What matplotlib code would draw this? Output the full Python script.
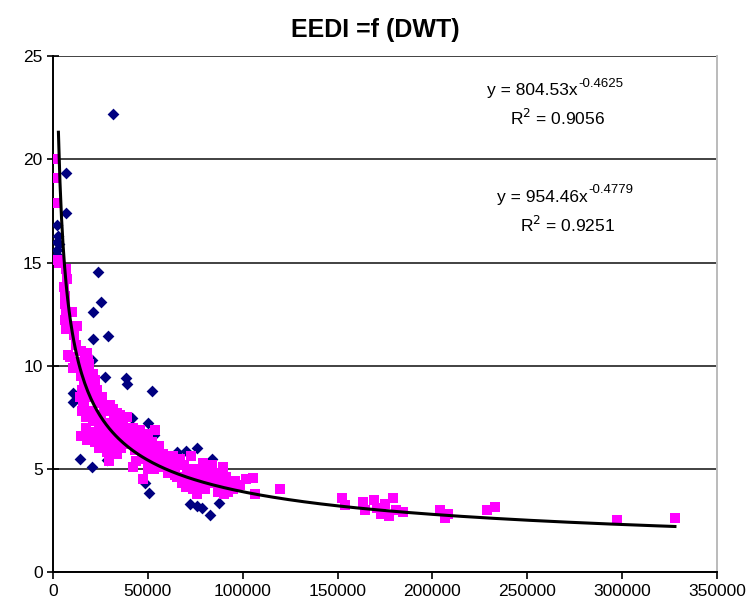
import numpy as np
import matplotlib

matplotlib.use("Agg")
import matplotlib.pyplot as plt

plt.rcParams["font.family"] = ["Liberation Sans", "DejaVu Sans"]

# navy diamonds (DWT, EEDI)
navy_x = [31600, 6700, 6850, 1950, 2270, 1950, 1950, 23900, 25300, 21250,
          21250, 28800, 27400, 38500, 38800, 52000, 10400, 10700, 20400, 41500,
          50200, 52000, 53200, 28300, 70100, 76100, 83600, 50800, 48500, 87700,
          82800, 78400, 14200, 20500, 3000, 2500, 72000, 76000, 65500]
navy_y = [22.2, 19.35, 17.4, 16.8, 16.0, 15.6, 15.35, 14.55, 13.08, 12.6,
          11.27, 11.43, 9.46, 9.4, 9.1, 8.77, 8.66, 8.25, 10.27, 7.45,
          7.24, 6.8, 6.64, 5.43, 5.88, 5.99, 5.46, 3.84, 4.3, 3.36,
          2.76, 3.09, 5.5, 5.1, 15.9, 16.3, 3.3, 3.2, 5.8]

# magenta squares (DWT, EEDI)
mag_x = [1000, 1500, 1000, 2500, 3000, 6700, 7500, 6000, 6200, 6500,
         6800, 9800, 12500, 11000, 12000, 9000, 10700, 17800, 18500, 16000,
         19000, 20000, 15000, 22000, 17000, 14200, 15500, 16500, 18000, 20000,
         21500, 23000, 24500, 16000, 17500, 19500, 21000, 22500, 24000, 25500,
         27000, 26000, 28000, 29000, 30500, 32000, 33600, 35300, 22000, 24000,
         26500, 28500, 31000, 33000, 35000, 37000, 38000, 36000, 34000, 40000,
         42000, 44000, 46000, 48000, 50000, 52000, 54000, 56000, 58000, 45000,
         47000, 49000, 51000, 53000, 55000, 42200, 44000, 47400, 50000, 59900,
         62000, 64000, 67000, 69000, 71000, 73000, 75000, 77000, 79000, 81000,
         83000, 72000, 74000, 76000, 78000, 80000, 84000, 86000, 88000, 89600,
         91000, 93000, 95000, 96000, 98600, 102000, 105400, 106500, 119600,
         152200, 153900, 163600, 164500, 169000, 171000, 173000, 175000, 177000,
         179000, 181000, 184500, 204000, 206600, 208000, 228600, 233000,
         297100, 327900,
         39000, 41000, 43000, 30000, 27500, 25000, 23500, 29500, 32500, 36500,
         57000, 60500, 65500, 68000, 70000, 85000, 87000, 92000,
         8000, 11500, 13500, 15000, 17000, 19000, 21000, 16500, 18500, 20500,
         15500, 17500, 19500, 14500, 18000, 26000, 28500, 31500, 34500, 37500,
         40500, 43500, 46500, 49500, 52500, 55500, 58500, 61500, 64500, 67500,
         70500, 73500, 76500, 79500, 82500, 85500, 88500, 91500, 94500, 48000,
         53000, 58000, 63000, 68000, 74000, 80000, 86000, 90000, 6300, 6600]
mag_y = [20.0, 19.1, 17.9, 15.1, 15.0, 14.7, 14.2, 13.8, 13.4, 13.0,
         12.6, 12.6, 11.9, 11.5, 11.0, 10.4, 9.9, 10.6, 10.3, 10.1,
         9.9, 9.6, 9.5, 9.3, 9.2, 8.5, 8.8, 8.3, 8.6, 8.9,
         8.5, 8.8, 8.2, 8.0, 7.5, 7.8, 7.3, 7.6, 7.0, 7.4,
         7.8, 6.8, 7.2, 6.6, 7.0, 7.4, 7.7, 7.6, 6.3, 6.0,
         6.2, 5.8, 6.1, 6.5, 6.9, 7.2, 6.5, 6.0, 5.7, 6.8,
         7.0, 6.6, 6.9, 6.4, 6.7, 6.3, 6.9, 6.1, 5.7, 6.1,
         5.8, 5.5, 5.9, 5.4, 5.6, 5.1, 5.4, 4.5, 5.0, 5.6,
         5.3, 5.0, 5.5, 5.2, 4.8, 5.6, 5.0, 4.6, 5.3, 4.4,
         4.9, 4.3, 4.0, 3.8, 4.2, 4.0, 5.2, 4.5, 4.2, 5.1,
         4.6, 4.3, 4.0, 4.4, 4.2, 4.5, 4.55, 3.8, 4.0,
         3.57, 3.25, 3.4, 3.0, 3.5, 3.1, 2.8, 3.3, 2.7,
         3.6, 3.0, 2.9, 3.0, 2.6, 2.8, 3.0, 3.16,
         2.52, 2.6,
         7.5, 6.2, 5.9, 8.1, 6.6, 7.1, 6.7, 5.4, 5.9, 6.3,
         5.2, 4.8, 4.6, 4.5, 4.1, 4.8, 3.9, 3.9,
         10.5, 10.2, 10.0, 10.7, 10.4, 10.1, 9.6, 9.0, 9.3, 9.0,
         7.8, 7.0, 6.8, 6.6, 6.4, 8.5, 8.0, 7.9, 7.3, 7.0,
         6.4, 6.2, 6.0, 5.9, 5.8, 5.3, 5.1, 4.9, 4.7, 4.6,
         4.9, 5.0, 4.9, 4.5, 4.6, 4.3, 4.3, 4.1, 4.2, 5.6,
         5.0, 5.4, 5.6, 4.3, 4.5, 4.8, 4.7, 3.8, 12.2, 11.8]

# power trend line shown on the chart
TREND_A, TREND_B = 954.46, -0.4779
TREND_XMIN, TREND_XMAX = 2850, 327900

fig = plt.figure(figsize=(7.53, 6.11), dpi=100)
ax = fig.add_axes([0.0704, 0.0638, 0.8816, 0.8442])

ax.scatter(navy_x, navy_y, marker="D", s=36, color="#000080", zorder=3,
           linewidths=0)
ax.scatter(mag_x, mag_y, marker="s", s=55, color="#FF00FF", zorder=4,
           linewidths=0)

xt = np.linspace(TREND_XMIN, TREND_XMAX, 400)
ax.plot(xt, TREND_A * xt ** TREND_B, color="black", lw=2.2, zorder=5)

ax.set_xlim(0, 350000)
ax.set_ylim(0, 25)
ax.set_xticks(np.arange(0, 350001, 50000))
ax.set_yticks(np.arange(0, 26, 5))
ax.tick_params(axis="both", labelsize=12.5, length=5, width=1.2, colors="black")
ax.tick_params(axis="y", direction="inout", length=8)
ax.grid(True, axis="y", color="#333333", lw=1.3)
ax.set_axisbelow(True)

for s in ("left", "bottom"):
    ax.spines[s].set_linewidth(1.4)
ax.spines["top"].set_visible(False)
ax.spines["right"].set_color("#bbbbbb")
ax.spines["right"].set_linewidth(1.4)


def power_label(x, y, coef, expo):
    # Excel-style "y = ax^b" with a raised, smaller exponent
    t = ax.text(x, y, f"y = {coef}x", transform=ax.transAxes,
                fontsize=12.5, ha="left", va="center")
    ax.annotate(expo, xy=(1, 0.55), xycoords=t, xytext=(0.5, 0),
                textcoords="offset points", fontsize=9.5, ha="left",
                va="bottom")


power_label(0.654, 0.934, "804.53", "-0.4625")
ax.text(0.688, 0.880, "R$^2$ = 0.9056", transform=ax.transAxes,
        fontsize=12.5, ha="left", va="center")
power_label(0.669, 0.727, "954.46", "-0.4779")
ax.text(0.703, 0.672, "R$^2$ = 0.9251", transform=ax.transAxes,
        fontsize=12.5, ha="left", va="center")

fig.text(0.499, 0.951, "EEDI =f (DWT)", fontsize=18, fontweight="bold",
         ha="center", va="center")

fig.savefig("out.png", dpi=100)
